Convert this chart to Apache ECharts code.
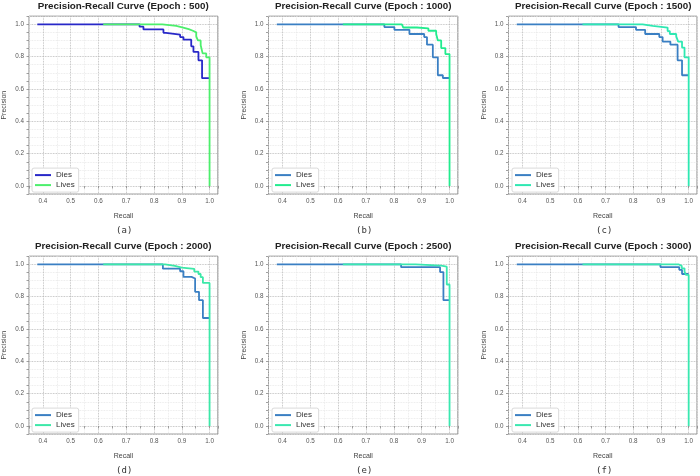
<!DOCTYPE html>
<html>
<head>
<meta charset="utf-8">
<script src="https://cdn.jsdelivr.net/npm/echarts@6/dist/echarts.min.js"></script>
<style>
  html, body { margin: 0; background: #fff; }
  #main { width: 700px; height: 476px; }
</style>
</head>
<body>
<div id="main"></div>
<script>
// data: [recall, precision] step points
var epochs = [500, 1000, 1500, 2000, 2500, 3000];
var captions = ['(a)', '(b)', '(c)', '(d)', '(e)', '(f)'];
var legendNames = ['Dies', 'Lives'];

var diesA = [[0.38,1],[0.748,0.985],[0.762,0.968],[0.834,0.947],[0.843,0.936],[0.894,0.921],[0.906,0.905],[0.934,0.864],[0.942,0.829],[0.96,0.777],[0.973,0.667],[1.0,0.667]];
var livesA = [[0.617,1],[0.83,0.99],[0.88,0.98],[0.905,0.97],[0.925,0.96],[0.94,0.95],[0.952,0.925],[0.958,0.9],[0.968,0.87],[0.975,0.82],[0.988,0.796],[1.0,0]];

var diesB = [[0.38,1],[0.766,0.983],[0.802,0.966],[0.856,0.94],[0.909,0.921],[0.919,0.874],[0.94,0.796],[0.958,0.685],[0.976,0.668],[1.0,0.668]];
var livesB = [[0.617,1],[0.829,0.99],[0.834,0.98],[0.883,0.975],[0.924,0.96],[0.952,0.94],[0.958,0.9],[0.97,0.853],[0.985,0.816],[1.0,0]];

var diesC = [[0.38,1],[0.747,0.983],[0.81,0.966],[0.843,0.94],[0.894,0.921],[0.906,0.893],[0.934,0.874],[0.96,0.777],[0.976,0.685],[1.0,0.685]];
var livesC = [[0.617,1],[0.834,0.99],[0.87,0.98],[0.924,0.958],[0.932,0.94],[0.955,0.925],[0.962,0.893],[0.976,0.856],[0.985,0.796],[1.0,0]];

var diesD = [[0.38,1],[0.832,0.973],[0.894,0.957],[0.906,0.922],[0.935,0.912],[0.948,0.83],[0.962,0.778],[0.976,0.668],[1.0,0.668]];
var livesD = [[0.617,1],[0.84,0.99],[0.875,0.98],[0.9,0.972],[0.945,0.955],[0.96,0.94],[0.968,0.92],[0.976,0.885],[1.0,0]];

var diesE = [[0.38,1],[0.826,0.982],[0.966,0.952],[0.978,0.778],[1.0,0.778]];
var livesE = [[0.617,1],[0.878,0.992],[0.97,0.985],[0.99,0.875],[1.0,0]];

var diesF = [[0.38,1],[0.898,0.983],[0.966,0.966],[0.976,0.94],[1.0,0.94]];
var livesF = [[0.617,1],[0.963,0.99],[0.975,0.975],[0.985,0.955],[0.99,0.935],[1.0,0]];

var diesAll = [diesA, diesB, diesC, diesD, diesE, diesF];
var livesAll = [livesA, livesB, livesC, livesD, livesE, livesF];

var diesColors = ['#2828c8', '#3a7fc3', '#3a7fc3', '#3a7fc3', '#3a7fc3', '#3a7fc3'];
var livesColors = ['#4cef6c', '#22ec8e', '#2ee8b2', '#3ce8a8', '#3ae8b0', '#3ae8b0'];

// layout (pixels)
var colLeft = [28.5, 268.5, 508.5];
var rowTop = [16.2, 256.2];
var plotW = 189.4, plotH = 177.9;

var majorGrid = '#b0b0b0', minorGrid = '#e4e4e4';

function isMultiple(v, step) {
  var k = Math.round(v / step);
  return Math.abs(v - k * step) < 1e-6;
}

var grids = [], xAxes = [], yAxes = [], series = [], legends = [], graphics = [];

for (var i = 0; i < 6; i++) {
  var gLeft = colLeft[i % 3];
  var gTop = rowTop[Math.floor(i / 3)];
  var cx = gLeft + plotW / 2;

  grids.push({
    left: gLeft, top: gTop, width: plotW, height: plotH,
    show: true, borderColor: '#888', borderWidth: 1, backgroundColor: '#fff'
  });

  xAxes.push({
    type: 'value', gridIndex: i, min: 0.35, max: 1.03, interval: 0.05,
    name: 'Recall', nameLocation: 'middle', nameGap: 18,
    nameTextStyle: { fontFamily: 'Liberation Sans', fontSize: 7, color: '#444' },
    axisLine: { show: false },
    axisTick: { show: true, length: 2.5, lineStyle: { color: '#888', width: 0.8 } },
    axisLabel: {
      fontFamily: 'Liberation Sans', fontSize: 6.3, color: '#555', margin: 4,
      formatter: function (v) { return (isMultiple(v, 0.1) && v > 0.36 && v < 1.01) ? v.toFixed(1) : ''; }
    },
    splitLine: { show: true, lineStyle: { color: [minorGrid, majorGrid], type: 'dotted', width: 0.8 } }
  });

  yAxes.push({
    type: 'value', gridIndex: i, min: -0.05, max: 1.05, interval: 0.05,
    name: 'Precision', nameLocation: 'middle', nameGap: 21,
    nameTextStyle: { fontFamily: 'Liberation Sans', fontSize: 7, color: '#444' },
    axisLine: { show: false },
    axisTick: { show: true, length: 2.5, lineStyle: { color: '#888', width: 0.8 } },
    axisLabel: {
      fontFamily: 'Liberation Sans', fontSize: 6.3, color: '#555', margin: 5,
      formatter: function (v) { return (isMultiple(v, 0.2) && v > -0.01 && v < 1.01) ? v.toFixed(1) : ''; }
    },
    splitLine: { show: true, lineStyle: { color: [minorGrid, majorGrid, minorGrid, minorGrid], type: 'dotted', width: 0.8 } }
  });

  series.push({
    name: 'Dies', type: 'line', xAxisIndex: i, yAxisIndex: i, step: 'end',
    data: diesAll[i], showSymbol: false, symbol: 'none', silent: true,
    lineStyle: { color: diesColors[i], width: 1.8 }, itemStyle: { color: diesColors[i] }, z: 2
  });
  series.push({
    name: 'Lives', type: 'line', xAxisIndex: i, yAxisIndex: i, step: 'end',
    data: livesAll[i], showSymbol: false, symbol: 'none', silent: true,
    lineStyle: { color: livesColors[i], width: 1.8 }, itemStyle: { color: livesColors[i] }, z: 3
  });

  legends.push({
    orient: 'vertical', left: gLeft + 3.5, top: gTop + plotH - 26,
    padding: [3, 4, 3, 3], itemGap: 2, itemWidth: 16, itemHeight: 2,
    backgroundColor: '#fff', borderColor: '#d0d0d0', borderWidth: 0.8, borderRadius: 2,
    selectedMode: false, icon: 'rect',
    textStyle: { fontFamily: 'Liberation Sans', fontSize: 8, color: '#333' },
    data: [
      { name: legendNames[0], itemStyle: { color: diesColors[i] } },
      { name: legendNames[1], itemStyle: { color: livesColors[i] } }
    ]
  });

  graphics.push({
    type: 'text', x: cx, y: gTop - 10.3,
    style: {
      text: 'Precision-Recall Curve (Epoch : ' + epochs[i] + ')',
      font: 'bold 9.8px "Liberation Sans"', fill: '#222',
      align: 'center', verticalAlign: 'middle'
    }
  });
  graphics.push({
    type: 'text', x: cx + 1, y: gTop + plotH + 36.5,
    style: {
      text: captions[i], font: '9px "DejaVu Sans Mono"', fill: '#333',
      align: 'center', verticalAlign: 'middle'
    }
  });
}

var chart = echarts.init(document.getElementById('main'));
chart.setOption({
  animation: false,
  backgroundColor: '#fff',
  grid: grids,
  xAxis: xAxes,
  yAxis: yAxes,
  legend: legends,
  series: series,
  graphic: { elements: graphics }
});
</script>
</body>
</html>
